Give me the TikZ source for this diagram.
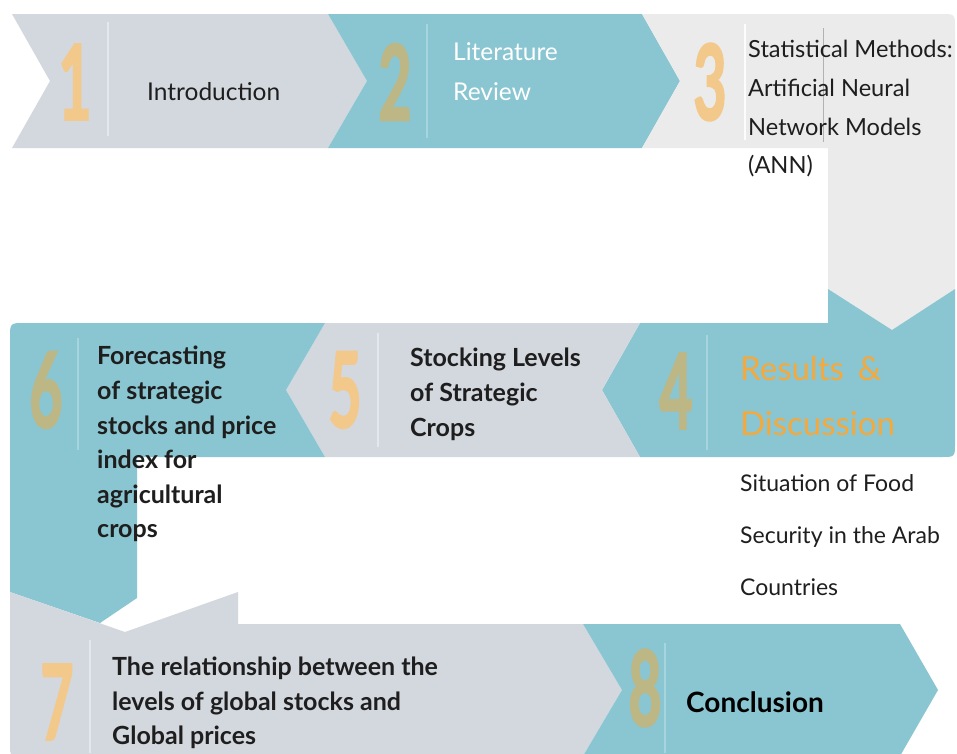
\documentclass[tikz,border=0pt]{standalone}
\usepackage{fontspec}
\setmainfont{Lato}
\newfontfamily\numfont{Lato}[BoldFeatures={FakeBold=2.5}]
\usepackage{graphicx}
\definecolor{tealc}{HTML}{8AC6D1}
\definecolor{grayc}{HTML}{D3D7DE}
\definecolor{lgrayc}{HTML}{EBEBEB}
\definecolor{orngnum}{HTML}{F2C98A}
\definecolor{khaki}{HTML}{BDB685}
\definecolor{orngtxt}{HTML}{F5A93C}
\definecolor{sepongray}{HTML}{E4E7EB}
\definecolor{sepontea}{HTML}{A6D5DD}
\definecolor{darktxt}{HTML}{1E1E1E}
\tikzset{
  num/.style={inner sep=0pt, font=\fontsize{104}{104}\selectfont\numfont\bfseries},
  light/.style={inner sep=0pt, anchor=base west, text=darktxt, font=\fontsize{24.5}{30}\selectfont},
  boldt/.style={inner sep=0pt, anchor=base west, text=darktxt, font=\fontsize{25}{30}\selectfont\bfseries},
  sit/.style={inner sep=0pt, anchor=base west, text=darktxt, font=\fontsize{23}{28}\selectfont},
  sepg/.style={draw=sepongray, line width=1.2pt},
  sept/.style={draw=sepontea, line width=1.2pt}
}
\newcommand{\dig}[1]{\scalebox{0.55}[1]{#1}}
\begin{document}
\begin{tikzpicture}[x=1pt,y=-1pt]
\useasboundingbox (0,0) rectangle (957,753);
\fill[white] (0,0) rectangle (957,753);
% top row
\fill[grayc] (12,14) -- (328,14) -- (367,81) -- (328,148) -- (12,148) -- (50,81) -- cycle;
\fill[tealc] (328,14) -- (642,14) -- (680,81) -- (642,148) -- (328,148) -- (367,81) -- cycle;
\fill[lgrayc] (642,14) -- (941,14) .. controls (955,14) .. (955,28) -- (955,289) -- (892,330) -- (828,289) -- (828,148) -- (642,148) -- (680,81) -- cycle;
% middle row
\fill[tealc] (640,323) -- (828,323) -- (828,289) -- (892,330) -- (955,289) -- (955,443) .. controls (955,457) .. (941,457) -- (640,457) -- (602,390) -- cycle;
\fill[grayc] (325,323) -- (640,323) -- (602,390) -- (640,457) -- (325,457) -- (286,390) -- cycle;
\fill[tealc] (10,338) .. controls (10,323) .. (25,323) -- (325,323) -- (286,390) -- (325,457) -- (137,457) -- (137,598) -- (100,623) -- (10,592) -- cycle;
% bottom row
\fill[grayc] (10,592) -- (125,632) -- (238,592) -- (238,624) -- (583,624) -- (622,690) -- (583,756) -- (22,756) .. controls (10,756) .. (10,744) -- cycle;
\fill[tealc] (583,624) -- (900,624) -- (938,690) -- (900,756) -- (583,756) -- (622,690) -- cycle;
% separators
\draw[sepg] (108,22) -- (108,136);
\draw[sept] (427,24) -- (427,138);
\draw[draw=white!85!lgrayc, line width=1.2pt] (745,24) -- (745,140);
\draw[draw=gray!60, line width=1pt] (823,28) -- (823,142);
\draw[sept] (707,335) -- (707,450);
\draw[sepg] (378,333) -- (378,447);
\draw[sept] (78,338) -- (78,450);
\draw[sepg] (90,640) -- (90,753);
\draw[sept] (665,643) -- (665,753);
% numbers
\node[num, text=orngnum] (n1) at (75,82) {\dig{1}};
\node[num, text=khaki] (n2) at (395,82) {\dig{2}};
\node[num, text=orngnum] (n3) at (710,82) {\dig{3}};
\node[num, text=khaki] (n4) at (676,391) {\dig{4}};
\node[num, text=orngnum] (n5) at (345,390) {\dig{5}};
\node[num, text=khaki] (n6) at (46,390) {\dig{6}};
\node[num, text=orngnum] (n7) at (57,702) {\dig{7}};
\node[num, text=khaki] (n8) at (645,688) {\dig{8}};
% texts top row
\node[light] (t1) at (147,100) {Introduction};
\node[light, text=white] (t2a) at (453,60) {Literature};
\node[light, text=white] (t2b) at (453,100) {Review};
\node[light, font=\fontsize{23.6}{30}\selectfont] (t3a) at (748,57) {Statistical Methods:};
\node[light, font=\fontsize{23.6}{30}\selectfont] (t3b) at (748,96) {Artificial Neural};
\node[light, font=\fontsize{23.6}{30}\selectfont] (t3c) at (748,135) {Network Models};
\node[light, font=\fontsize{23.6}{30}\selectfont] (t3d) at (748,173) {(ANN)};
% middle row
\node[light, text=orngtxt, font=\fontsize{33}{40}\selectfont] (t4a) at (740,380) {Results \,\&};
\node[light, text=orngtxt, font=\fontsize{33}{40}\selectfont] (t4b) at (740,435) {Discussion};
\node[sit] (s1) at (740,491) {Situation of Food};
\node[sit] (s2) at (740,543) {Security in the Arab};
\node[sit] (s3) at (740,595) {Countries};
\node[boldt] (t5a) at (410,366) {Stocking Levels};
\node[boldt] (t5b) at (410,401) {of Strategic};
\node[boldt] (t5c) at (410,436) {Crops};
\node[boldt] (t6a) at (97,364) {Forecasting};
\node[boldt] (t6b) at (97,399) {of strategic};
\node[boldt] (t6c) at (97,434) {stocks and price};
\node[boldt] (t6d) at (97,468) {index for};
\node[boldt] (t6e) at (97,503) {agricultural};
\node[boldt] (t6f) at (97,537) {crops};
% bottom row
\node[boldt] (t7a) at (112,675) {The relationship between the};
\node[boldt] (t7b) at (112,710) {levels of global stocks and};
\node[boldt] (t7c) at (112,744) {Global prices};
\node[boldt, font=\fontsize{28}{34}\selectfont\bfseries, text=black] (t8) at (686,712) {Conclusion};
\end{tikzpicture}
\end{document}
